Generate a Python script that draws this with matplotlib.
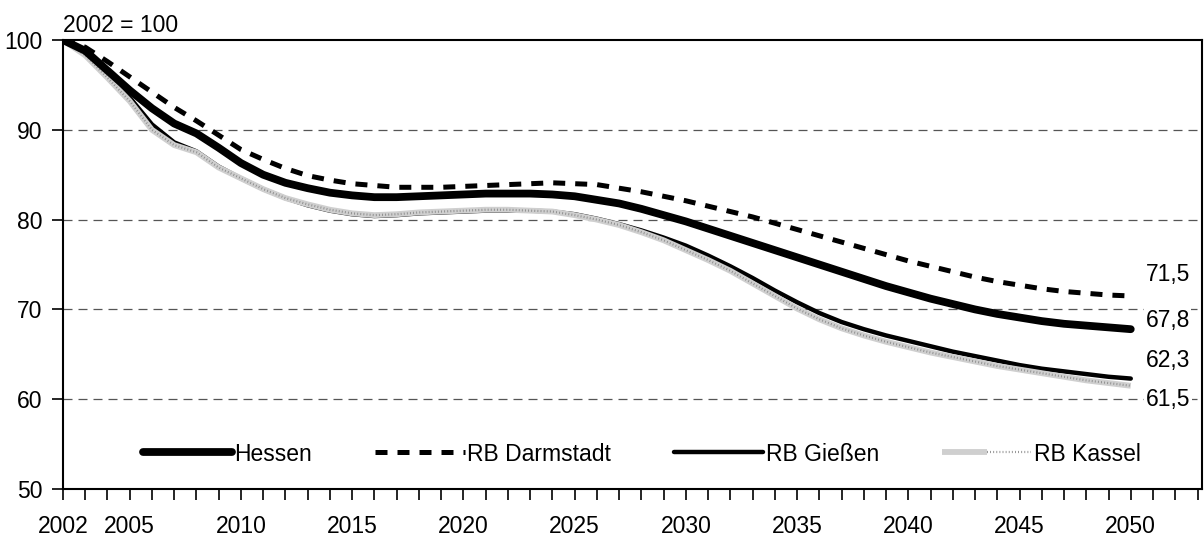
import numpy as np
import matplotlib
matplotlib.use("Agg")
from matplotlib import pyplot as plt
from matplotlib.legend_handler import HandlerTuple

plt.rcParams['font.family'] = ['Liberation Sans', 'DejaVu Sans']

years = list(range(2002, 2051))

hessen = [100.0, 98.8, 96.6, 94.4, 92.4, 90.7, 89.6, 88.0, 86.3, 85.0,
          84.1, 83.5, 83.0, 82.7, 82.5, 82.5, 82.6, 82.7, 82.8, 82.9,
          82.9, 82.9, 82.8, 82.6, 82.2, 81.8, 81.2, 80.5, 79.8, 79.0,
          78.2, 77.4, 76.6, 75.8, 75.0, 74.2, 73.4, 72.6, 71.9, 71.2,
          70.6, 70.0, 69.5, 69.1, 68.7, 68.4, 68.2, 68.0, 67.8]

darmstadt = [100.0, 99.2, 97.6, 95.9, 94.2, 92.5, 91.0, 89.4, 87.8, 86.7,
             85.7, 84.9, 84.4, 84.0, 83.8, 83.6, 83.6, 83.6, 83.7, 83.8,
             83.9, 84.0, 84.1, 84.0, 83.9, 83.5, 83.1, 82.6, 82.1, 81.5,
             80.9, 80.3, 79.6, 78.9, 78.2, 77.5, 76.8, 76.1, 75.4, 74.8,
             74.2, 73.6, 73.1, 72.7, 72.3, 72.0, 71.8, 71.6, 71.5]

giessen = [100.0, 98.6, 96.3, 93.6, 90.6, 88.6, 87.6, 85.9, 84.6, 83.4,
           82.4, 81.6, 81.0, 80.6, 80.4, 80.5, 80.7, 80.8, 80.9, 81.0,
           81.0, 81.0, 80.9, 80.6, 80.1, 79.5, 78.8, 78.0, 77.1, 76.0,
           74.8, 73.5, 72.1, 70.8, 69.6, 68.6, 67.8, 67.1, 66.5, 65.9,
           65.3, 64.8, 64.3, 63.8, 63.4, 63.1, 62.8, 62.5, 62.3]

kassel = [100.0, 98.3, 95.8, 93.2, 90.0, 88.3, 87.5, 85.8, 84.6, 83.4,
          82.4, 81.7, 81.1, 80.7, 80.5, 80.6, 80.8, 80.9, 81.0, 81.1,
          81.1, 81.0, 80.9, 80.5, 80.0, 79.4, 78.6, 77.7, 76.6, 75.5,
          74.3, 72.9, 71.5, 70.1, 68.9, 67.9, 67.1, 66.4, 65.8, 65.2,
          64.7, 64.2, 63.7, 63.3, 62.9, 62.5, 62.1, 61.8, 61.5]

series_names = ['Hessen', 'RB Darmstadt', 'RB Gießen', 'RB Kassel']
x_labels = [2002, 2005, 2010, 2015, 2020, 2025, 2030, 2035, 2040, 2045, 2050]

fig = plt.figure(figsize=(12.04, 5.43), dpi=100)
ax = fig.add_axes([0.0523, 0.0994, 0.946, 0.8269])

fs = 16.5

# lines (draw order: Gießen, Kassel, Hessen, Darmstadt)
l_gi, = ax.plot(years, giessen, color='black', lw=3.2, solid_capstyle='round', zorder=3)
l_ka1, = ax.plot(years, kassel, color='#cfcfcf', lw=4.2, solid_capstyle='butt', zorder=4)
l_ka2, = ax.plot(years, kassel, color='#8c8c8c', lw=1.6, linestyle=(0, (0.4, 1.0)), zorder=4)
l_he, = ax.plot(years, hessen, color='black', lw=5.6, solid_capstyle='round', zorder=5)
l_da, = ax.plot(years, darmstadt, color='black', lw=3.6, linestyle=(0, (2.4, 2.0)),
                dash_capstyle='butt', zorder=6)

ax.set_xlim(2002, 2053.2)
ax.set_ylim(50, 100)

ax.set_yticks([50, 60, 70, 80, 90, 100])
ax.set_xticks(range(2002, 2054), minor=True)
ax.set_xticks(x_labels)
ax.set_xticklabels([str(y) for y in x_labels])

ax.tick_params(axis='y', direction='out', length=8, width=1.2, pad=7, labelsize=fs)
ax.tick_params(axis='x', which='both', direction='out', length=8, width=1.2, pad=11, labelsize=fs)

for s in ax.spines.values():
    s.set_linewidth(1.5)
    s.set_color('black')

for g in [60, 70, 80, 90]:
    ax.axhline(g, color='#555555', lw=0.9, linestyle=(0, (7.2, 4.8)), zorder=1)

ax.annotate('2002 = 100', xy=(0, 1), xycoords='axes fraction', xytext=(0, 5.8),
            textcoords='offset points', va='baseline', ha='left', fontsize=fs)

# end labels
end_vals = [darmstadt[-1], hessen[-1], giessen[-1], kassel[-1]]
label_y = [73.9, 68.8, 64.3, 60.0]
for v, yy in zip(end_vals, label_y):
    ax.text(2050.67, yy, f"{v:.1f}".replace('.', ','), fontsize=fs, va='center', ha='left',
            bbox=dict(facecolor='white', edgecolor='none', pad=1), zorder=7)

leg = ax.legend([l_he, l_da, l_gi, (l_ka1, l_ka2)], series_names,
                handler_map={tuple: HandlerTuple(ndivide=None, pad=0)},
                ncol=4, frameon=False, loc='center left', bbox_to_anchor=(0.0702, 0.078),
                borderaxespad=0, borderpad=0, handlelength=3.9, handletextpad=0.1,
                columnspacing=2.75, fontsize=fs)

fig.savefig('out.png', dpi=100)
